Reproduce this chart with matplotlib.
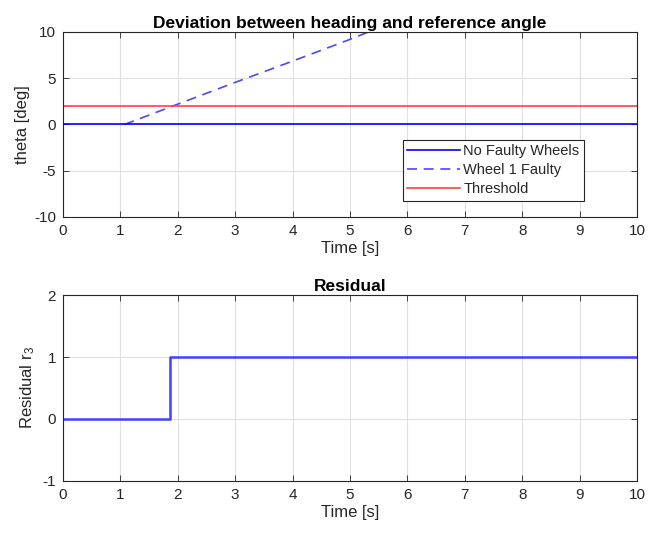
import numpy as np
import matplotlib.pyplot as plt

plt.rcParams['font.family'] = ['Liberation Sans', 'DejaVu Sans']
plt.rcParams['mathtext.fontset'] = 'custom'
plt.rcParams['mathtext.rm'] = 'Liberation Sans'
plt.rcParams['mathtext.it'] = 'Liberation Sans'
plt.rcParams['axes.unicode_minus'] = False

# top panel data
t_nofault = [0, 10]
theta_nofault = [0, 0]
t_wheel1 = [1.07, 2, 3, 4, 5, 5.4]
theta_wheel1 = [0, 2.2, 4.55, 6.85, 9.2, 10.2]
t_thresh = [0, 10]
theta_thresh = [2, 2]

# bottom panel data
t_res = [0, 1.87, 1.87, 10]
residual = [0, 0, 1, 1]

xticks = list(range(0, 11))

fig = plt.figure(figsize=(6.48, 5.33), dpi=100)
ax1 = fig.add_axes([0.0972, 0.5929, 0.8858, 0.3471])
ax2 = fig.add_axes([0.0972, 0.0976, 0.8858, 0.3489])

tick_col = '#262626'

def style(ax):
    ax.grid(True, color='#e0e0e0', linewidth=0.8)
    ax.set_axisbelow(True)
    ax.set_xlim(0, 10)
    ax.set_xticks(xticks)
    ax.tick_params(direction='in', top=True, right=True, labelsize=11,
                   colors=tick_col, length=4, width=0.6, pad=5)
    for s in ax.spines.values():
        s.set_color(tick_col)
        s.set_linewidth(0.8)

ax1.plot(t_nofault, theta_nofault, color='#0000ff', linewidth=1.2, label='No Faulty Wheels', zorder=3)
ax1.plot(t_wheel1, theta_wheel1, color='#4848ff', linewidth=1.2, linestyle=(0, (6, 4)),
         label='Wheel 1 Faulty', zorder=2)
ax1.plot(t_thresh, theta_thresh, color='#ff4040', linewidth=1.2, label='Threshold', zorder=2)
style(ax1)
ax1.set_ylim(-10, 10)
ax1.set_yticks([-10, -5, 0, 5, 10])
ax1.set_title('Deviation between heading and reference angle', fontsize=12.5,
              fontweight='bold', pad=3)
ax1.set_xlabel('Time [s]', fontsize=12, color=tick_col, labelpad=2)
ax1.set_ylabel('theta [deg]', fontsize=12, color=tick_col, labelpad=3)
leg = ax1.legend(loc='lower left', bbox_to_anchor=(0.592, 0.088, 0.316, 0.326),
                 mode='expand', fontsize=10.5, fancybox=False, framealpha=1,
                 edgecolor='#262626', handlelength=3.6, handletextpad=0.25,
                 borderpad=0.3, labelspacing=0.35, borderaxespad=0)
leg.get_frame().set_linewidth(0.8)
for txt in leg.get_texts():
    txt.set_color(tick_col)

ax2.plot(t_res, residual, color='#4040ff', linewidth=1.8)
style(ax2)
ax2.set_ylim(-1, 2)
ax2.set_yticks([-1, 0, 1, 2])
ax2.set_title('Residual', fontsize=12.5, fontweight='bold', pad=3)
ax2.set_xlabel('Time [s]', fontsize=12, color=tick_col, labelpad=2)
ax2.set_ylabel('Residual r$_3$', fontsize=12, color=tick_col, labelpad=4)

fig.savefig('out.png', dpi=100)
